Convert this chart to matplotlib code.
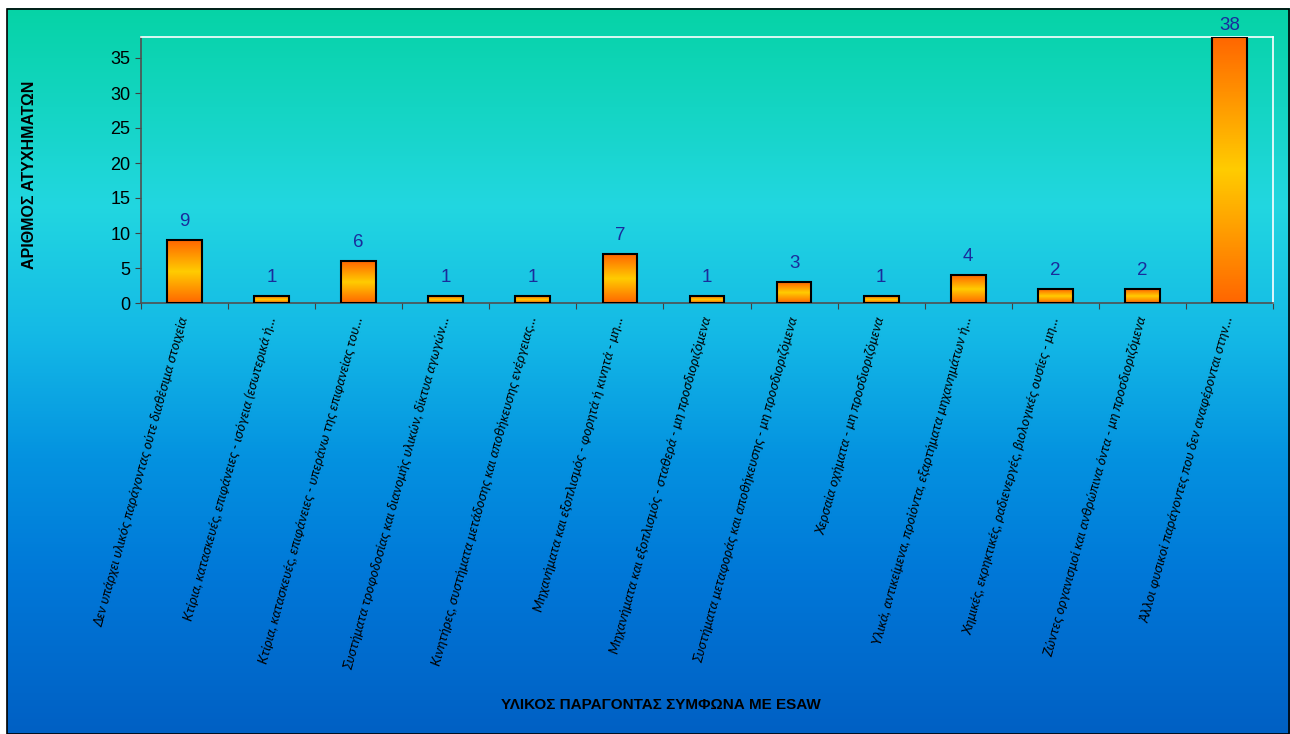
import matplotlib
matplotlib.use("Agg")
import matplotlib.pyplot as plt
from matplotlib.colors import LinearSegmentedColormap
from matplotlib.patches import Rectangle
import numpy as np

# δεδομένα
categories = [
    "Δεν υπάρχει υλικός παράγοντας ούτε διαθέσιμα στοιχεία",
    "Κτίρια, κατασκευές, επιφάνειες - ισόγεια (εσωτερικά ή…",
    "Κτίρια, κατασκευές, επιφάνειες - υπεράνω της επιφανείας του…",
    "Συστήματα τροφοδοσίας και διανομής υλικών, δίκτυα αγωγών…",
    "Κινητήρες, συστήματα μετάδοσης και αποθήκευσης ενέργειας…",
    "Μηχανήματα και εξοπλισμός - φορητά ή κινητά - μη…",
    "Μηχανήματα και εξοπλισμός - σταθερά - μη προσδιοριζόμενα",
    "Συστήματα μεταφοράς και αποθήκευσης - μη προσδιοριζόμενα",
    "Χερσαία οχήματα - μη προσδιοριζόμενα",
    "Υλικά, αντικείμενα, προϊόντα, εξαρτήματα μηχανημάτων ή…",
    "Χημικές, εκρηκτικές, ραδιενεργές, βιολογικές ουσίες - μη…",
    "Ζώντες οργανισμοί και ανθρώπινα όντα - μη προσδιοριζόμενα",
    "Άλλοι φυσικοί παράγοντες που δεν αναφέρονται στην…",
]
accidents = [9, 1, 6, 1, 1, 7, 1, 3, 1, 4, 2, 2, 38]
yticks = [0, 5, 10, 15, 20, 25, 30, 35]

ylabel = "ΑΡΙΘΜΟΣ ΑΤΥΧΗΜΑΤΩΝ"
xlabel = "ΥΛΙΚΟΣ ΠΑΡΑΓΟΝΤΑΣ ΣΥΜΦΩΝΑ ΜΕ ESAW"

W, H = 1290, 734
fig = plt.figure(figsize=(W / 100, H / 100), dpi=100)
fig.patch.set_facecolor("white")

# φόντο με διαβάθμιση
bg_cmap = LinearSegmentedColormap.from_list("bg", [
    (0.0, "#06D3A6"), (0.27, "#22D7E0"), (0.45, "#14B9E6"),
    (0.62, "#0492E0"), (0.78, "#0078D8"), (1.0, "#0060C4")])
bg = fig.add_axes([7 / W, 0, (W - 7) / W, (H - 8) / H], zorder=-5)
bg.imshow(np.linspace(0, 1, 256).reshape(-1, 1), cmap=bg_cmap, aspect="auto",
          extent=[0, 1, 0, 1], origin="upper")
bg.set_axis_off()
fig.patches.append(Rectangle((6.5 / W, 0.5 / H), (W - 7.5) / W, (H - 9) / H,
                             transform=fig.transFigure, fill=False,
                             edgecolor="black", linewidth=1.2, zorder=10))

ax = fig.add_axes([141 / W, 1 - 303 / H, 1132 / W, 266 / H])
ax.patch.set_alpha(0)

bar_cmap = LinearSegmentedColormap.from_list("bar", [
    (0.0, "#FF6600"), (0.5, "#FFCC00"), (1.0, "#FF6600")])
grad = np.linspace(0, 1, 200).reshape(-1, 1)

x = np.arange(len(accidents))
bars = ax.bar(x, accidents, width=0.4, facecolor="none",
              edgecolor="black", linewidth=1.5, zorder=3)
for b in bars:
    x0, w, h = b.get_x(), b.get_width(), b.get_height()
    ax.imshow(grad, cmap=bar_cmap, aspect="auto",
              extent=[x0, x0 + w, 0, h], zorder=2)

# η ετικέτα της μεγαλύτερης τιμής κατεβαίνει λίγο για να χωρέσει (όπως στο excel)
top = max(accidents)
for xi, v in zip(x, accidents):
    off = 7 if v < top else 2
    ax.annotate(str(v), (xi, v), xytext=(0, off), textcoords="offset points",
                ha="center", va="bottom", fontsize=13.5, color="#1A2C9C",
                family="Liberation Sans", annotation_clip=False)

ax.set_xlim(-0.5, len(accidents) - 0.5)
ax.set_ylim(0, 38)
ax.set_yticks(yticks)
ax.set_yticklabels([str(t) for t in yticks], fontsize=13, family="Liberation Sans")
ax.set_xticks(np.arange(len(accidents) + 1) - 0.5, minor=False)
ax.set_xticklabels([])
ax.set_xticks(x, minor=True)
ax.set_xticklabels(categories, minor=True, rotation=74.5, ha="right",
                   va="center", rotation_mode="anchor", fontsize=9.8,
                   style="italic", family="Lato")
ax.tick_params(axis="x", which="minor", length=0, pad=10)
ax.tick_params(axis="x", which="major", length=4, direction="out", color="#404040")
ax.tick_params(axis="y", length=4, direction="out", color="#404040")

for s in ["left", "bottom"]:
    ax.spines[s].set_color("#505050")
    ax.spines[s].set_linewidth(1.2)
for s in ["top", "right"]:
    ax.spines[s].set_color("white")
    ax.spines[s].set_linewidth(1.2)

fig.text(30 / W, 1 - 175 / H, ylabel, rotation=90, ha="center", va="center",
         fontsize=11.5, fontweight="bold", family="Liberation Sans")
fig.text(661 / W, 1 - 705 / H, xlabel, ha="center", va="center",
         fontsize=11, fontweight="bold",
         family=["Liberation Sans Narrow", "Liberation Sans"])

fig.savefig("out.png", dpi=100)
